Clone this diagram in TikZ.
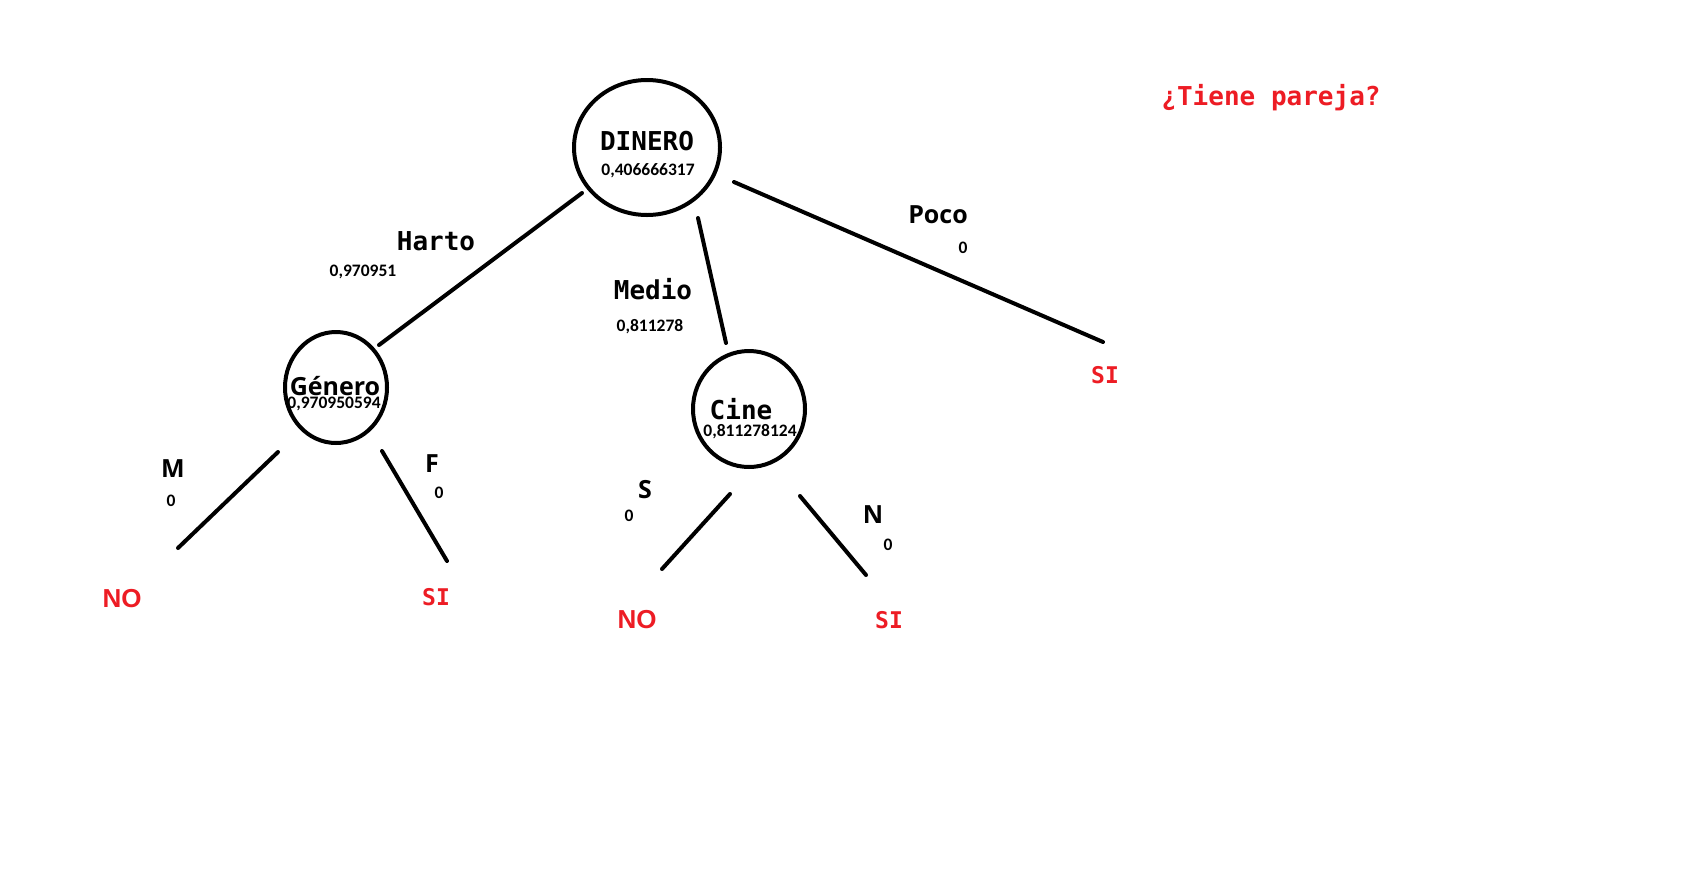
\documentclass[tikz,border=0pt]{standalone}
\usepackage{fontspec}
\usetikzlibrary{shapes.geometric}
\newfontfamily\monof{DejaVu Sans Mono}
\newfontfamily\numf{Carlito}
\newfontfamily\opensf{Open Sans}
\newfontfamily\boldsf{Liberation Sans}
\definecolor{pred}{HTML}{ED1C24}
\tikzset{
  x=1pt, y=-1pt,
  treenode/.style={draw, ellipse, line width=4pt, inner sep=0pt},
  edge/.style={line width=4pt, line cap=round},
  word/.style={inner sep=0pt, anchor=base, font=\monof\bfseries\fontsize{26}{26}\selectfont},
  num/.style={inner sep=0pt, anchor=base, font=\numf\bfseries\fontsize{17.5}{17.5}\selectfont},
  lab/.style={inner sep=0pt, anchor=base, font=\opensf\bfseries\fontsize{25}{25}\selectfont},
  leafsi/.style={inner sep=0pt, anchor=base, text=pred, font=\monof\bfseries\fontsize{23}{23}\selectfont},
  leafno/.style={inner sep=0pt, anchor=base, text=pred, font=\boldsf\bfseries\fontsize{26}{26}\selectfont},
}
\begin{document}
\begin{tikzpicture}
\useasboundingbox[fill=white] (0,0) rectangle (1682,871);
% circles
\node[treenode, minimum width=146pt, minimum height=135pt] (dinero) at (647,147.5) {};
\node[treenode, minimum width=102pt, minimum height=111pt] (genero) at (336,387.5) {};
\node[treenode, minimum width=112pt, minimum height=116pt] (cine) at (749,409) {};
% texts in circles
\node[word] (tdinero) at (647,150) {DINERO};
\node[num] (ndinero) at (648,175) {0,406666317};
\node[lab, font=\opensf\bfseries\fontsize{25}{25}\selectfont] (tgenero) at (335,395) {Género};
\node[num] (ngenero) at (334,408) {0,970950594};
\node[word] (tcine) at (741,419) {Cine};
\node[num] (ncine) at (750,436) {0,811278124};
% title
\node[inner sep=0pt, anchor=base, text=pred, font=\monof\bfseries\fontsize{26}{26}\selectfont] (title) at (1271,105) {¿Tiene pareja?};
% connector end points
\coordinate (h1) at (582,193);
\coordinate (h2) at (379,345);
\coordinate (m1) at (698,218);
\coordinate (m2) at (726,343);
\coordinate (p1) at (734,182);
\coordinate (p2) at (1103,342);
\coordinate (gm1) at (278,452);
\coordinate (gm2) at (178,548);
\coordinate (gf1) at (382,451);
\coordinate (gf2) at (447,561);
\coordinate (cs1) at (730,494);
\coordinate (cs2) at (662,569);
\coordinate (cn1) at (800,496);
\coordinate (cn2) at (866,575);
% connectors
\draw[edge] (h1) -- (h2);
\draw[edge] (m1) -- (m2);
\draw[edge] (p1) -- (p2);
\draw[edge] (gm1) -- (gm2);
\draw[edge] (gf1) -- (gf2);
\draw[edge] (cs1) -- (cs2);
\draw[edge] (cn1) -- (cn2);
% edge labels
\node[word] (harto) at (436,250) {Harto};
\node[num] (nharto) at (363,276) {0,970951};
\node[word] (medio) at (653,299) {Medio};
\node[num] (nmedio) at (650,331) {0,811278};
\node[lab] (poco) at (938,223) {Poco};
\node[num] (npoco) at (963,253) {0};
\node[lab] (lm) at (173,477) {M};
\node[num] (nm) at (171,506) {0};
\node[lab] (lf) at (432,472) {F};
\node[num] (nf) at (439,498) {0};
\node[lab] (ls) at (645,498) {S};
\node[num] (ns) at (629,521) {0};
\node[lab] (ln) at (873,523) {N};
\node[num] (nn) at (888,550) {0};
% leaves
\node[leafsi] (sipoco) at (1105,383) {SI};
\node[leafno] (nom) at (122,607) {NO};
\node[leafsi] (sif) at (436,605) {SI};
\node[leafno] (nos) at (637,628) {NO};
\node[leafsi] (sin) at (889,628) {SI};
\end{tikzpicture}
\end{document}
